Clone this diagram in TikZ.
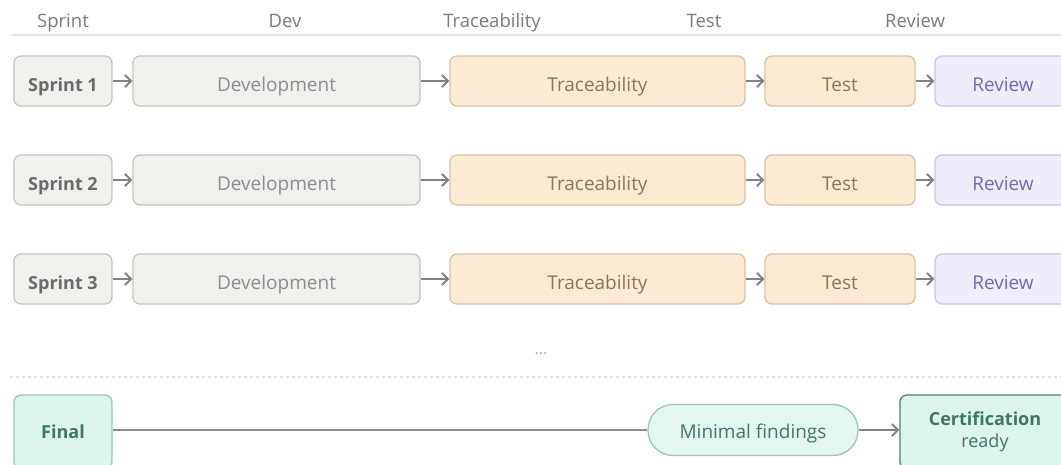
\documentclass[tikz,border=0pt]{standalone}
\usepackage{fontspec}
\setmainfont{Open Sans}
\usetikzlibrary{arrows.meta,positioning}
\definecolor{hdr}{HTML}{7A7A7A}
\definecolor{hline}{HTML}{E4E4E8}
\definecolor{sfill}{HTML}{F1F0EC}
\definecolor{sdraw}{HTML}{C6C4BE}
\definecolor{stext}{HTML}{6A6A6A}
\definecolor{dtext}{HTML}{8C8C8C}
\definecolor{pfill}{HTML}{FCEBD3}
\definecolor{pdraw}{HTML}{D8C3A8}
\definecolor{ptext}{HTML}{8E7552}
\definecolor{rfill}{HTML}{EEEDFC}
\definecolor{rdraw}{HTML}{C7C5E6}
\definecolor{rtext}{HTML}{6E6AB8}
\definecolor{gfill}{HTML}{DDF4EE}
\definecolor{gdraw}{HTML}{A0C2B7}
\definecolor{gdark}{HTML}{557F72}
\definecolor{gtext}{HTML}{3E7764}
\definecolor{arr}{HTML}{828282}
\tikzset{
  box/.style={draw, rounded corners=7pt, line width=1.3pt, minimum height=50pt, inner sep=0pt, text height=20pt, text depth=0pt, font=\fontsize{19}{22}\selectfont},
  sprintbox/.style={box, fill=sfill, draw=sdraw, text=stext, font=\fontsize{18}{21}\selectfont\bfseries, minimum width=98pt},
  devbox/.style={box, fill=sfill, draw=sdraw, text=dtext, minimum width=287pt},
  tracebox/.style={box, fill=pfill, draw=pdraw, text=ptext, minimum width=295pt},
  testbox/.style={box, fill=pfill, draw=pdraw, text=ptext, minimum width=150pt},
  reviewbox/.style={box, fill=rfill, draw=rdraw, text=rtext, minimum width=136pt},
  hdrlabel/.style={text=hdr, font=\fontsize{18.5}{21}\selectfont, inner sep=0pt, anchor=base},
  flow/.style={draw=arr, line width=2pt, -{Straight Barb[length=6pt,width=12pt]}},
}
\begin{document}
\begin{tikzpicture}[x=1pt,y=-1pt]
\useasboundingbox (0,0) rectangle (1061,464);
\clip (0,0) rectangle (1061,464);
\fill[white] (0,0) rectangle (1061,464);
% headers
\node[hdrlabel] (h1) at (63,27) {Sprint};
\node[hdrlabel] (h2) at (285,27) {Dev};
\node[hdrlabel] (h3) at (492,27) {Traceability};
\node[hdrlabel] (h4) at (704,27) {Test};
\node[hdrlabel] (h5) at (915,27) {Review};
\coordinate (hl1) at (12,35);
\coordinate (hl2) at (1061,35);
\draw[hline, line width=1.5pt] (hl1) -- (hl2);
% rows
\foreach \i/\y in {1/81,2/180,3/279}{
  \node[sprintbox] (s\i) at (63,\y) {Sprint \i};
  \node[devbox] (d\i) at (276.5,\y) {Development};
  \node[tracebox] (t\i) at (597.5,\y) {Traceability};
  \node[testbox] (e\i) at (840,\y) {Test};
  \node[reviewbox] (r\i) at (1003,\y) {Review};
  \draw[flow] (s\i) -- (d\i);
  \draw[flow] (d\i) -- (t\i);
  \draw[flow] (t\i) -- (e\i);
  \draw[flow] (e\i) -- (r\i);
}
\node[text=hdr!60, font=\fontsize{16}{18}\selectfont, inner sep=0pt] (dots) at (541,354) {...};
\coordinate (dl1) at (10,377);
\coordinate (dl2) at (1061,377);
\draw[hline!120, line width=1.2pt, dash pattern=on 3pt off 3pt] (dl1) -- (dl2);
% final row
\node[box, fill=gfill, draw=gdraw, text=gtext, font=\fontsize{18}{21}\selectfont\bfseries, minimum width=98pt, minimum height=74pt, text height=12pt] (fin) at (63,432) {Final};
\node[box, rounded corners=25pt, fill=gfill!80!white, draw=gdraw, text=gtext, minimum width=210pt, minimum height=51pt, text height=16pt] (min) at (753,430) {Minimal findings};
\node[draw=gdark, fill=gfill, rounded corners=7pt, line width=1.3pt, inner sep=0pt, text=gtext, minimum width=170pt, minimum height=74pt, align=center, font=\fontsize{18}{22}\selectfont] (cert) at (985,432) {\textbf{Certification}\\ready};
\draw[draw=arr!90, line width=2pt] (fin.east |- min.west) -- (min.west);
\draw[flow] (min.east) -- (cert.west |- min.east);
\end{tikzpicture}
\end{document}
